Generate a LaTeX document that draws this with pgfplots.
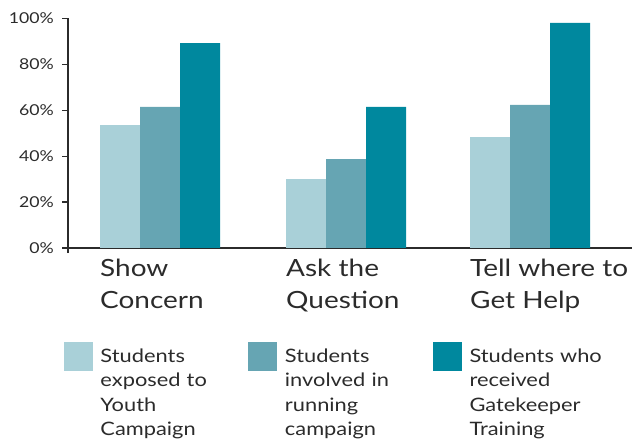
\documentclass[border=0pt]{standalone}
\usepackage{pgfplots}
\pgfplotsset{compat=1.18}
\usepackage{fontspec}
\setmainfont[FakeStretch=1.18]{Lato}
\definecolor{c1}{HTML}{A9D0D8}
\definecolor{c2}{HTML}{66A5B3}
\definecolor{c3}{HTML}{00889E}
\definecolor{txt}{HTML}{2B2B2B}
\newcommand{\legtab}[1]{\begin{tabular}[t]{@{}l@{}}#1\end{tabular}}
\begin{document}
\begin{tikzpicture}
\useasboundingbox (0,0) rectangle (634pt,439pt);
\begin{axis}[
  scale only axis, width=564pt, height=234.7pt,
  at={(68pt,186pt)}, anchor=south west,
  xmin=68, xmax=632, ymin=-2.18, ymax=100,
  axis x line=middle, axis y line=left,
  axis line style={-, draw=txt},
  x axis line style={line width=1.6pt},
  y axis line style={line width=1.2pt},
  ybar=0pt, bar width=40pt,
  xtick={100,286,470},
  xticklabels={{Show\\Concern},{Ask the\\Question},{Tell where to\\Get Help}},
  xticklabel style={anchor=north west, align=left, font=\fontsize{23.7}{32}\selectfont, text=txt, inner sep=0pt, yshift=-5pt},
  x tick style={draw=none},
  ytick={0,20,...,100},
  yticklabel={\pgfmathparse{int(\tick)}\pgfmathresult\%},
  yticklabel style={font=\fontsize{15}{18}\selectfont, text=txt, anchor=east, inner sep=0pt, xshift=-8pt},
  y tick style={draw=txt, line width=1.2pt},
  tick align=outside, major tick length=6pt,
  legend columns=3,
  legend image code/.code={\fill[#1,draw=none] (0pt,22.85pt) rectangle (29pt,51.85pt); \path (0pt,-51.85pt) (36.5pt,0pt);},
  legend style={draw=none, fill=none, inner sep=0pt, outer sep=0pt,
    at={(-0.0071,-0.3792)}, anchor=north west,
    font=\fontsize{18.5}{24.5}\selectfont, text=txt,
    nodes={inner sep=0pt, text depth=},
    cells={anchor=base west},
    /tikz/every even column/.append style={text width=148pt}},
  legend cell align=left,
]
\addplot[fill=c1, draw=none] coordinates {(160,53.5) (346,30) (530,48.3)};
\addplot[fill=c2, draw=none] coordinates {(160,61.4) (346,38.7) (530,62.3)};
\addplot[fill=c3, draw=none] coordinates {(160,89.2) (346,61.4) (530,98)};
\addlegendentry{\legtab{Students\\exposed to\\Youth\\Campaign}}
\addlegendentry{\legtab{Students\\involved in\\running\\campaign}}
\addlegendentry{\legtab{Students who\\received\\Gatekeeper\\Training}}
\end{axis}
\end{tikzpicture}
\end{document}
